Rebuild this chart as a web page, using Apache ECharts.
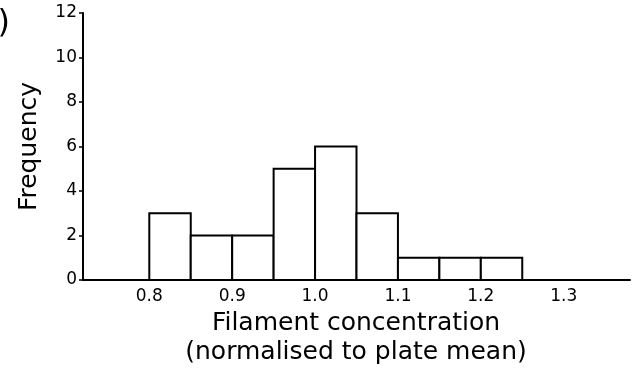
<!DOCTYPE html>
<html>
<head>
<meta charset="utf-8">
<script src="https://cdn.jsdelivr.net/npm/echarts@6/dist/echarts.min.js"></script>
<style>
  html, body { margin: 0; padding: 0; background: #fff; }
  #chart { width: 641px; height: 369px; }
</style>
</head>
<body>
<div id="chart"></div>
<script>
// histogram bins (left edges) and counts
var binStart = [0.80, 0.85, 0.90, 0.95, 1.00, 1.05, 1.10, 1.15, 1.20]
var binWidth = 0.05
var counts = [3, 2, 2, 5, 6, 3, 1, 1, 1]
var xTicks = [0.8, 0.9, 1.0, 1.1, 1.2, 1.3]

var font = 'DejaVu Sans'
var chart = echarts.init(document.getElementById('chart'))

var data = []
for (var i = 0; i < counts.length; i++) {
  data.push([binStart[i], binStart[i] + binWidth, counts[i]])
}

chart.setOption({
  animation: false,
  grid: { left: 83, right: 11, top: 13, bottom: 89 },
  graphic: [
    {
      type: 'text', x: 10, y: 8,
      style: { text: '(b)', font: '32px "DejaVu Sans"', fill: '#000', align: 'right', verticalAlign: 'top' }
    },
    {
      type: 'text', x: 356, y: 309,
      style: {
        text: 'Filament concentration\n(normalised to plate mean)',
        font: '25px "DejaVu Sans"', fill: '#000', align: 'center', verticalAlign: 'top',
        lineHeight: 29
      }
    }
  ],
  xAxis: {
    type: 'value',
    min: 0.72,
    max: 1.38,
    splitLine: { show: false },
    axisLine: { lineStyle: { color: '#000', width: 2 } },
    axisTick: { show: false },
    axisLabel: {
      customValues: xTicks,
      formatter: function (v) { return v.toFixed(1) },
      color: '#000', fontFamily: font, fontSize: 17, margin: 8
    }
  },
  yAxis: {
    type: 'value',
    min: 0, max: 12, interval: 2,
    name: 'Frequency',
    nameLocation: 'middle',
    nameGap: 41,
    nameTextStyle: { color: '#000', fontFamily: font, fontSize: 25 },
    splitLine: { show: false },
    axisLine: { show: true, lineStyle: { color: '#000', width: 2 } },
    axisTick: { show: true, length: 4, lineStyle: { color: '#000', width: 1.5 } },
    axisLabel: { color: '#000', fontFamily: font, fontSize: 17, margin: 6 }
  },
  series: [{
    type: 'custom',
    data: data,
    encode: { x: [0, 1], y: 2 },
    renderItem: function (params, api) {
      var p0 = api.coord([api.value(0), api.value(2)])
      var p1 = api.coord([api.value(1), 0])
      return {
        type: 'rect',
        shape: { x: p0[0], y: p0[1], width: p1[0] - p0[0], height: p1[1] - p0[1] },
        style: { fill: '#fff', stroke: '#000', lineWidth: 2 }
      }
    }
  }]
})
</script>
</body>
</html>
